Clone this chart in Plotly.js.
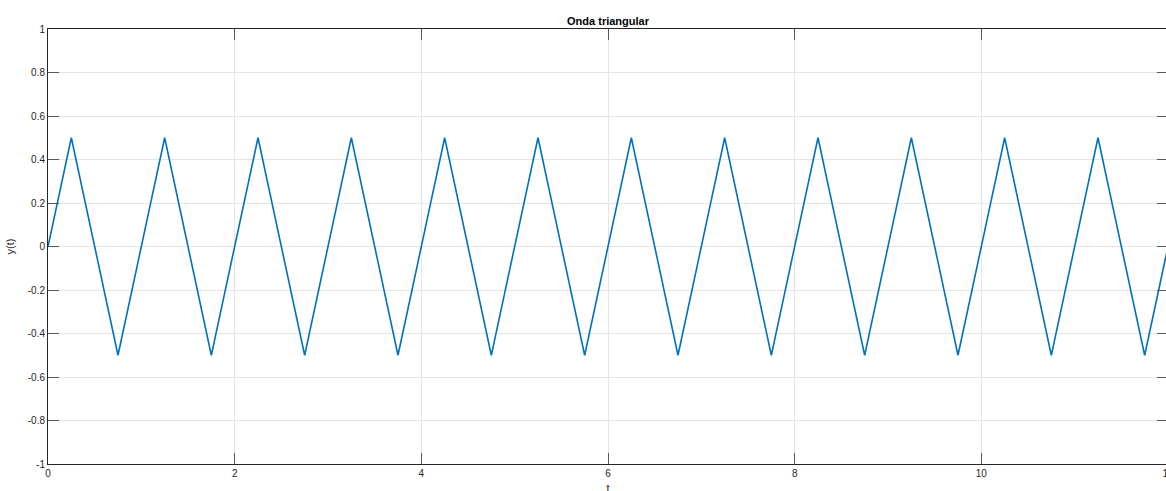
<!DOCTYPE html>
<html>
<head>
<meta charset="utf-8">
<script src="https://cdn.plot.ly/plotly-3.0.1.min.js"></script>
<style>
html, body { margin: 0; padding: 0; overflow: hidden; background: #fff; }
#chart { width: 1170px; height: 502px; }
</style>
</head>
<body>
<div id="chart"></div>
<script>
// Triangle wave vertices
const tValues = [0, 0.25, 0.75, 1.25, 1.75, 2.25, 2.75, 3.25, 3.75, 4.25, 4.75, 5.25, 5.75,
  6.25, 6.75, 7.25, 7.75, 8.25, 8.75, 9.25, 9.75, 10.25, 10.75, 11.25, 11.75, 12];
const yValues = [0, 0.5, -0.5, 0.5, -0.5, 0.5, -0.5, 0.5, -0.5, 0.5, -0.5, 0.5, -0.5,
  0.5, -0.5, 0.5, -0.5, 0.5, -0.5, 0.5, -0.5, 0.5, -0.5, 0.5, -0.5, 0];
const xTicks = [0, 2, 4, 6, 8, 10, 12];
const yTicks = [-1, -0.8, -0.6, -0.4, -0.2, 0, 0.2, 0.4, 0.6, 0.8, 1];

const axisColor = '#262626';
const gridColor = '#e5e5e5';
const fontFam = '"Liberation Sans", Arial, Helvetica, sans-serif';

const trace = {
  x: tValues, y: yValues, type: 'scatter', mode: 'lines',
  line: { color: '#0072BD', width: 1.6 }, hoverinfo: 'skip'
};

const axisCommon = {
  showline: true, linecolor: axisColor, linewidth: 1, mirror: 'ticks',
  ticks: 'inside', ticklen: 11, tickwidth: 1, tickcolor: '#5a5a5a',
  showgrid: true, gridcolor: gridColor, gridwidth: 1, zeroline: false,
  ticklabeloverflow: 'allow',
  tickfont: { family: fontFam, size: 10, color: axisColor }
};

const layout = {
  width: 1170, height: 502,
  margin: { l: 48, r: 2, t: 29, b: 38 },
  paper_bgcolor: '#ffffff', plot_bgcolor: '#ffffff',
  showlegend: false,
  title: { text: '<b>Onda triangular</b>', font: { family: fontFam, size: 11, color: '#000' },
           x: 0.5, xref: 'paper', y: 1, yref: 'paper', yanchor: 'bottom', pad: { b: 4 } },
  xaxis: Object.assign({}, axisCommon, {
    range: [0, 12], tickmode: 'array', tickvals: xTicks, ticktext: xTicks.map(String),
    title: { text: 't', font: { family: fontFam, size: 11, color: axisColor }, standoff: 6 }
  }),
  yaxis: Object.assign({}, axisCommon, {
    range: [-1, 1], tickmode: 'array', tickvals: yTicks, ticktext: yTicks.map(String),
    title: { text: 'y(t)', font: { family: fontFam, size: 11, color: axisColor }, standoff: 10 }
  })
};

Plotly.newPlot('chart', [trace], layout, { displayModeBar: false, staticPlot: true });
</script>
</body>
</html>
